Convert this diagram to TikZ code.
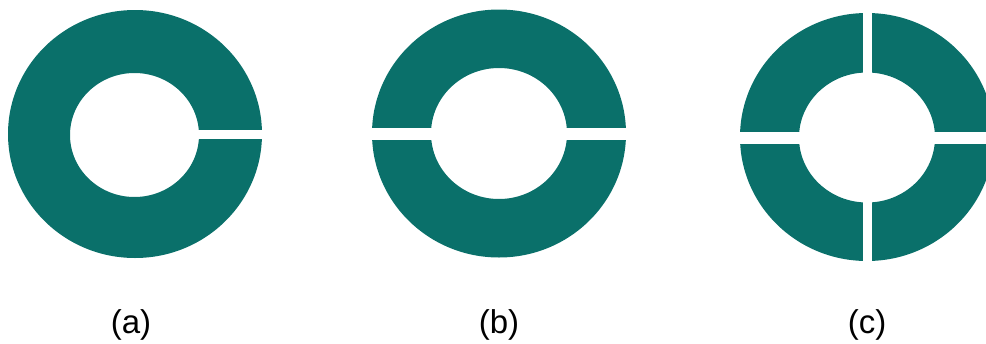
\documentclass[tikz,border=0pt]{standalone}
\usepackage{fontspec}
\setmainfont{Liberation Sans}
\definecolor{ringteal}{RGB}{10,112,106}
\begin{document}
\begin{tikzpicture}[x=1pt,y=-1pt,
  ring/.style={fill=ringteal,even odd rule},
  cut/.style={fill=white},
  lbl/.style={font=\fontsize{33}{40}\selectfont,inner sep=0pt}]
\useasboundingbox (0,0) rectangle (986,343);
\clip (0,0) rectangle (986,343);
% (a) one cut on the right
\fill[ring] (135,134) ellipse [x radius=127,y radius=124] (134.5,135) ellipse [x radius=64.5,y radius=62];
\fill[cut] (190,130) rectangle (270,138.5);
% (b) cut on both sides
\fill[ring] (499,133.5) ellipse [x radius=127,y radius=124] (499,133.5) ellipse [x radius=68,y radius=65.5];
\fill[cut] (360,128) rectangle (440,140);
\fill[cut] (558,128) rectangle (640,140);
% (c) four quarters
\fill[ring] (867,137) ellipse [x radius=127,y radius=124] (867,137.5) ellipse [x radius=68,y radius=65];
\fill[cut] (730,132) rectangle (1000,144);
\fill[cut] (862.7,0) rectangle (871.7,270);
% labels
\node[lbl] (la) at (131,325) {(a)};
\node[lbl] (lb) at (499,325) {(b)};
\node[lbl] (lc) at (867,325) {(c)};
\end{tikzpicture}
\end{document}
